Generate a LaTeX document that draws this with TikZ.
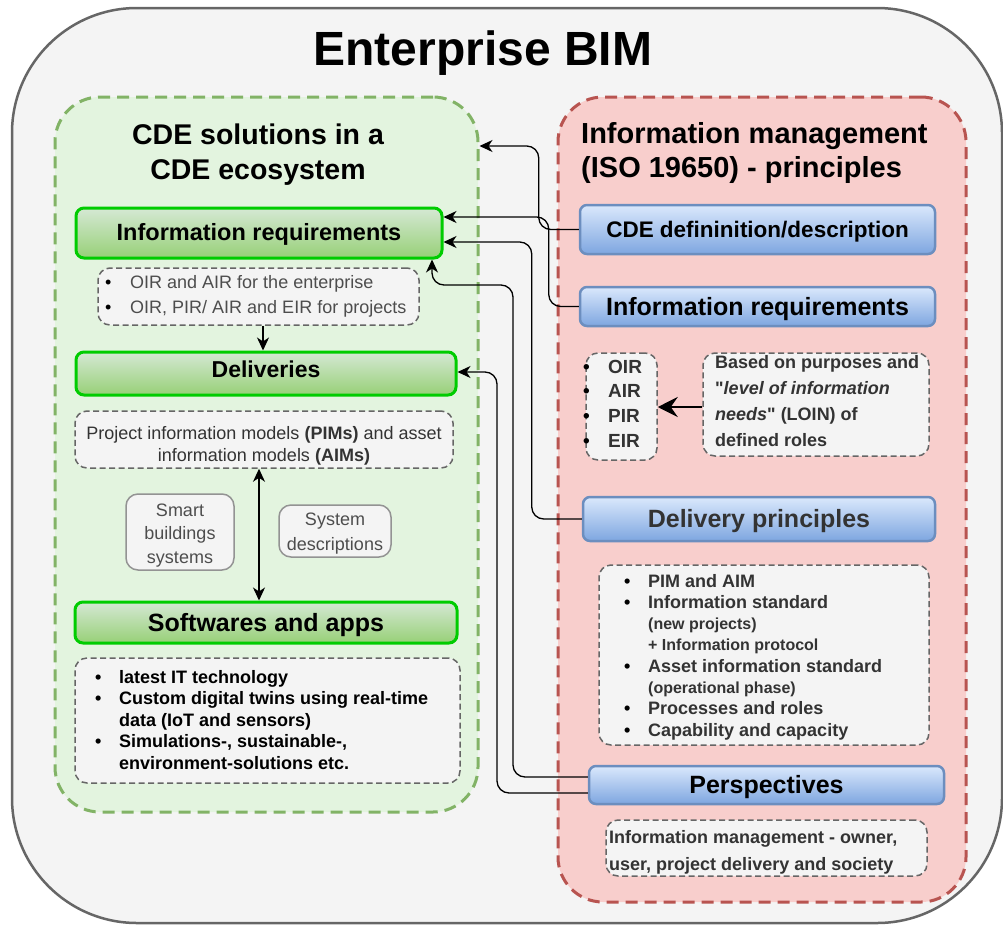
\documentclass[tikz,border=0pt]{standalone}
\usepackage{fontspec}
\setmainfont{Liberation Sans}[Ligatures=TeXOff]
\usetikzlibrary{arrows.meta}
\definecolor{outerfill}{HTML}{F4F4F4}
\definecolor{outerdraw}{HTML}{666666}
\definecolor{gcfill}{HTML}{E3F4DF}
\definecolor{gcdraw}{HTML}{82B366}
\definecolor{rcfill}{HTML}{F8CECC}
\definecolor{rcdraw}{HTML}{B85450}
\definecolor{gtop}{HTML}{D5E8D4}
\definecolor{gbot}{HTML}{97D077}
\definecolor{gborder}{HTML}{00CC00}
\definecolor{btop}{HTML}{DAE8FC}
\definecolor{bbot}{HTML}{7EA6E0}
\definecolor{bborder}{HTML}{6C8EBF}
\definecolor{dashgray}{HTML}{666666}
\definecolor{txtgray}{HTML}{4D4D4D}
\definecolor{txtdark}{HTML}{333333}
\newcommand{\fsz}[2]{\fontsize{#1}{#2}\selectfont}
\newcommand{\mb}[1]{\makebox[#1][l]{\color{black}\textbullet}}
\begin{document}
\begin{tikzpicture}[x=1pt,y=-1pt,
  container/.style={dash pattern=on 12pt off 7pt, line width=3pt, rounded corners=45pt, inner sep=0pt},
  greenbox/.style={draw=gborder, line width=3pt, rounded corners=8pt, top color=gtop, bottom color=gbot, inner sep=0pt, text depth=0pt},
  bluebox/.style={draw=bborder, line width=2.5pt, rounded corners=7pt, top color=btop, bottom color=bbot, inner sep=0pt, text depth=0pt},
  dbox/.style={draw=dashgray, line width=1.5pt, dash pattern=on 6pt off 3.5pt, rounded corners=12pt, fill=outerfill, inner sep=0pt},
  sbox/.style={draw=gray!85, line width=1.5pt, rounded corners=12pt, fill=outerfill, inner sep=0pt},
  txt/.style={inner sep=0pt, anchor=base west},
  ctxt/.style={inner sep=0pt, anchor=base},
  conn/.style={draw=black, line width=1.3pt, rounded corners=12pt, -{Stealth[length=13pt,width=12pt,inset=4pt]}},
]
\useasboundingbox (0,0) rectangle (1003,926);
% outer frame
\node[draw=outerdraw, fill=outerfill, line width=2.5pt, rounded corners=125pt, minimum width=990pt, minimum height=915pt, inner sep=0pt] (outer) at (507,465.5) {};
\node[ctxt, font=\fsz{48}{58}\bfseries] (title) at (483,65) {Enterprise BIM};

% containers
\node[container, draw=gcdraw, fill=gcfill, minimum width=423pt, minimum height=715pt] (gc) at (266.5,454.5) {};
\node[container, draw=rcdraw, fill=rcfill, minimum width=408pt, minimum height=805pt] (rc) at (762,499.5) {};

\node[ctxt, font=\fsz{28.5}{35}\bfseries] (gtitle) at (258,144) {\begin{tabular}[t]{@{}c@{}}CDE solutions in a\\CDE ecosystem\end{tabular}};
\node[txt, font=\fsz{29}{34}\bfseries] (rtitle) at (581,143) {\begin{tabular}[t]{@{}l@{}}Information management\\(ISO 19650) - principles\end{tabular}};

% left column
\node[greenbox, minimum width=366pt, minimum height=50pt, text height=16.8pt, text depth=2pt, font=\fsz{23.5}{28}\bfseries] (gIR) at (259,233) {Information requirements};
\node[dbox, minimum width=321pt, minimum height=57pt] (oirbox) at (258.5,296.5) {};
\node[txt, text=txtgray, font=\fsz{18}{25}] (oirboxT) at (105,288) {\begin{tabular}[t]{@{}l@{}l@{}}\mb{25pt} & OIR and AIR for the enterprise\\ \mb{25pt} & OIR, PIR/ AIR and EIR for projects\end{tabular}};

\node[greenbox, minimum width=380pt, minimum height=43pt, text height=16.5pt, text depth=8pt, font=\fsz{23}{28}\bfseries] (gDel) at (266,373.5) {Deliveries};
\node[dbox, minimum width=378pt, minimum height=57pt] (pim) at (264,439.5) {};
\node[ctxt, text=txtdark, font=\fsz{18}{22}] (pimT) at (264,439) {\begin{tabular}[t]{@{}c@{}}Project information models \textbf{(PIMs)} and asset\\ information models \textbf{(AIMs)}\end{tabular}};

\node[sbox, minimum width=108pt, minimum height=76pt] (smart) at (180,532) {};
\node[ctxt, text=txtgray, font=\fsz{18}{23.5}] (smartT) at (180,516) {\begin{tabular}[t]{@{}c@{}}Smart\\buildings\\systems\end{tabular}};
\node[sbox, minimum width=112pt, minimum height=52pt] (sysd) at (335,531) {};
\node[ctxt, text=txtgray, font=\fsz{18}{25}] (sysdT) at (335,525) {\begin{tabular}[t]{@{}c@{}}System\\descriptions\end{tabular}};

\node[greenbox, minimum width=382pt, minimum height=41pt, text height=17.9pt, font=\fsz{25}{30}\bfseries] (gSW) at (266,622.5) {Softwares and apps};
\node[dbox, minimum width=385pt, minimum height=125pt] (swbul) at (267.5,720.5) {};
\node[txt, font=\fsz{18}{21.6}\bfseries] (swbulT) at (95,683) {\begin{tabular}[t]{@{}l@{}l@{}}
\mb{24pt} & latest IT technology\\
\mb{24pt} & Custom digital twins using real-time\\
 & data (IoT and sensors)\\
\mb{24pt} & Simulations-, sustainable-,\\
 & environment-solutions etc.
\end{tabular}};

% right column
\node[bluebox, minimum width=355pt, minimum height=49pt, text height=16.1pt, font=\fsz{22.5}{27}\bfseries] (bCDE) at (757.5,229.5) {CDE defininition/description};
\node[bluebox, minimum width=355pt, minimum height=39pt, text height=17.9pt, font=\fsz{25}{30}\bfseries] (bIR) at (757.5,306.5) {Information requirements};

\node[dbox, minimum width=71pt, minimum height=107pt] (oirR) at (621.5,406.5) {};
\node[txt, text=txtdark, font=\fsz{19}{24.7}\bfseries] (oirRT) at (583,373) {\begin{tabular}[t]{@{}l@{}l@{}}
\mb{25pt} & OIR\\
\mb{25pt} & AIR\\
\mb{25pt} & PIR\\
\mb{25pt} & EIR
\end{tabular}};
\node[dbox, minimum width=226pt, minimum height=103pt] (loin) at (816,404.5) {};
\node[txt, text=txtdark, font=\fsz{18}{26}\bfseries] (loinT) at (715,368) {\begin{tabular}[t]{@{}l@{}}
Based on purposes and\\
"\textit{level of information}\\
\textit{needs}" (LOIN) of\\
defined roles
\end{tabular}};

\node[bluebox, text=txtdark, minimum width=352pt, minimum height=44pt, text height=17.9pt, font=\fsz{25}{30}\bfseries] (bDP) at (759,519) {Delivery principles};
\node[dbox, minimum width=330pt, minimum height=180pt] (dpbul) at (764,655) {};
\node[txt, text=txtdark, font=\fsz{18}{21.3}\bfseries] (dpbulT) at (624,587) {\begin{tabular}[t]{@{}l@{}l@{}}
\mb{24pt} & PIM and AIM\\
\mb{24pt} & Information standard\\
 & {\fsz{16}{21.3}(new projects)}\\
 & {\fsz{16}{21.3}+ Information protocol}\\
\mb{24pt} & Asset information standard\\
 & {\fsz{16}{21.3}(operational phase)}\\
\mb{24pt} & Processes and roles\\
\mb{24pt} & Capability and capacity
\end{tabular}};

\node[bluebox, minimum width=355pt, minimum height=38pt, text height=17.9pt, font=\fsz{25}{30}\bfseries] (bPer) at (766.5,785) {Perspectives};
\node[dbox, minimum width=321pt, minimum height=56pt] (imgmt) at (766.5,848) {};
\node[txt, text=txtdark, font=\fsz{18}{27}\bfseries] (imgmtT) at (609,843) {\begin{tabular}[t]{@{}l@{}}
Information management - owner,\\
user, project delivery and society
\end{tabular}};

% connectors
\draw[conn] (bCDE.west) -- ++(-40,0) |- (gc.east |- 0,146);
\draw[conn] (bIR.west) -- ++(-30,0) |- (gIR.east |- 0,217);
\draw[conn] (bDP.west) -- ++(-50,0) |- (gIR.east |- 0,242);
\draw[conn] (bPer.west |- 0,777) -| (513,285) -| (gIR.south -| 432,0);
\draw[conn] (bPer.west |- 0,793) -| (497,372) -- (gDel.east |- 0,372);
\draw[conn] (oirbox.south -| 263,0) -- (gDel.north -| 263,0);
\draw[conn, {Stealth[length=13pt,width=12pt,inset=4pt]}-{Stealth[length=13pt,width=12pt,inset=4pt]}] (pim.south -| 259,0) -- (gSW.north -| 259,0);
\draw[draw=black, line width=2.5pt, -{Stealth[length=20pt,width=20pt,inset=7pt]}] (loin.west |- 0,407) -- (oirR.east |- 0,407);
\end{tikzpicture}
\end{document}
